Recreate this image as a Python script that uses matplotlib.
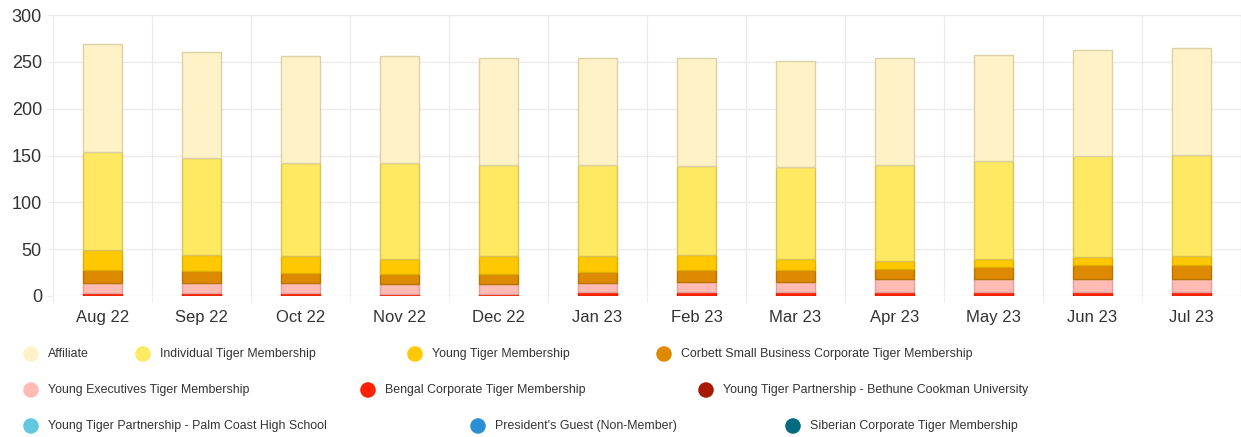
import numpy as np
import matplotlib.pyplot as plt

plt.rcParams['font.family'] = ['Liberation Sans', 'DejaVu Sans']

months = ["Aug 22", "Sep 22", "Oct 22", "Nov 22", "Dec 22", "Jan 23",
          "Feb 23", "Mar 23", "Apr 23", "May 23", "Jun 23", "Jul 23"]

# membership counts per month
affiliate = [115, 114, 114, 114, 114, 114, 115, 113, 114, 113, 113, 114]
individual = [105, 103, 99, 102, 97, 97, 95, 99, 103, 105, 108, 108]
young_tiger = [21, 17, 18, 17, 20, 17, 16, 11, 8, 8, 9, 10]
corbett = [14, 13, 11, 10, 10, 12, 13, 13, 11, 13, 15, 15]
young_exec = [11, 11, 11, 11, 11, 10, 11, 11, 14, 14, 14, 14]
bengal = [3, 3, 3, 2, 2, 4, 4, 4, 4, 4, 4, 4]
bethune = [0] * 12
palm_coast = [0] * 12
presidents_guest = [0] * 12
siberian = [0] * 12

labels = ["Affiliate", "Individual Tiger Membership", "Young Tiger Membership",
          "Corbett Small Business Corporate Tiger Membership",
          "Young Executives Tiger Membership", "Bengal Corporate Tiger Membership",
          "Young Tiger Partnership - Bethune Cookman University",
          "Young Tiger Partnership - Palm Coast High School",
          "President's Guest (Non-Member)", "Siberian Corporate Tiger Membership"]
series = [affiliate, individual, young_tiger, corbett, young_exec, bengal,
          bethune, palm_coast, presidents_guest, siberian]
fills = ["#FFF2C6", "#FFE862", "#FFC800", "#DE8A00", "#FFBBB4", "#FF2200",
         "#A61A00", "#62C8E0", "#2B8FD6", "#006A7E"]
edges = ["#DCD0A6", "#D8C456", "#E0AE00", "#B87400", "#E0A29C", "#E01E00",
         "#8A1600", "#50A8C0", "#2478B4", "#005666"]

W, H = 1241, 437
fig = plt.figure(figsize=(W / 100, H / 100), dpi=100)
ax = fig.add_axes([53 / W, (H - 296) / H, 1188 / W, 281 / H])

x = np.arange(len(months))
bottom = np.zeros(len(months))
# stack from the last series upwards so Affiliate ends on top
for vals, fc, ec in reversed(list(zip(series, fills, edges))):
    vals = np.array(vals, dtype=float)
    if vals.sum() > 0:
        ax.bar(x, vals, 0.4, bottom=bottom, color=fc, edgecolor=ec,
               linewidth=1, zorder=3)
    bottom += vals

ax.set_xlim(-0.5, len(months) - 0.5)
ax.set_ylim(0, 300)
ax.set_yticks(range(0, 301, 50))
ax.set_xticks(x)
ax.set_xticklabels(months)
ax.set_xticks(np.arange(-0.5, len(months), 1), minor=True)
ax.grid(axis='y', color='#EBEBEB', linewidth=1, zorder=0)
ax.grid(axis='x', which='minor', color='#EBEBEB', linewidth=1, zorder=0)
ax.tick_params(axis='x', which='major', length=0, pad=10, labelsize=12,
               labelcolor='#333333')
ax.tick_params(axis='x', which='minor', length=4, color='#EBEBEB')
ax.tick_params(axis='y', length=4, color='#EBEBEB', pad=4, labelsize=13,
               labelcolor='#333333')
for s in ax.spines.values():
    s.set_visible(False)

# legend laid out like the original html legend
leg = fig.add_axes([0, 0, 1, 1])
leg.set_xlim(0, W)
leg.set_ylim(H, 0)
leg.axis('off')
pos = [(31, 354), (143, 354), (415, 354), (664, 354),
       (31, 390), (368, 390), (706, 390),
       (31, 426), (478, 426), (793, 426)]
for (px, py), lab, fc in zip(pos, labels, fills):
    leg.scatter([px], [py], s=125, color=fc, edgecolors='none')
    leg.text(px + 17, py, lab, fontsize=8.9, color='#333333',
             va='center', ha='left')

fig.savefig("out.png", dpi=100)
